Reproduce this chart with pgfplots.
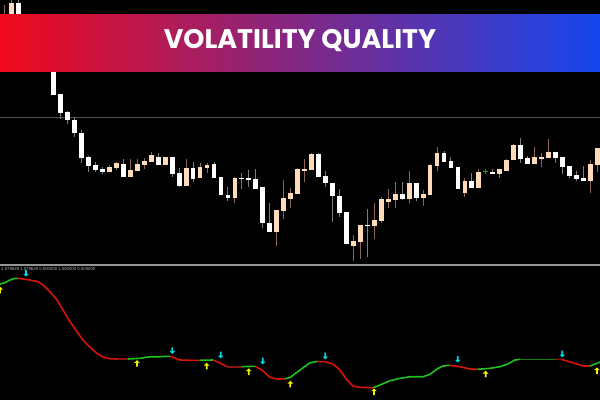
\documentclass[border=0pt]{standalone}
\usepackage{pgfplots}
\pgfplotsset{compat=1.18}
\usepackage{pgfplotstable}
\usepackage{fontspec}
\setmainfont{Liberation Sans}
\newfontfamily\poppins{Poppins}

\definecolor{peach}{RGB}{255,218,185}
\definecolor{wwick}{RGB}{125,125,125}
\definecolor{pwick}{RGB}{140,100,90}
\definecolor{vqgreen}{RGB}{30,195,30}
\definecolor{vqdkgreen}{RGB}{20,125,20}
\definecolor{vqred}{RGB}{215,20,10}
\definecolor{vqdkred}{RGB}{140,20,20}
\definecolor{arrcyan}{RGB}{0,215,230}
\definecolor{arryellow}{RGB}{240,240,0}
\definecolor{banl}{RGB}{240,10,28}
\definecolor{banr}{RGB}{20,70,238}

% arrow marks
\pgfdeclareplotmark{uparr}{%
  \pgfpathmoveto{\pgfpoint{0bp}{3.3bp}}
  \pgfpathlineto{\pgfpoint{2.8bp}{0.5bp}}
  \pgfpathlineto{\pgfpoint{0.9bp}{0.5bp}}
  \pgfpathlineto{\pgfpoint{0.9bp}{-3.3bp}}
  \pgfpathlineto{\pgfpoint{-0.9bp}{-3.3bp}}
  \pgfpathlineto{\pgfpoint{-0.9bp}{0.5bp}}
  \pgfpathlineto{\pgfpoint{-2.8bp}{0.5bp}}
  \pgfpathclose
  \pgfusepathqfill}
\pgfdeclareplotmark{dnarr}{%
  \pgfpathmoveto{\pgfpoint{0bp}{-3.3bp}}
  \pgfpathlineto{\pgfpoint{2.8bp}{-0.5bp}}
  \pgfpathlineto{\pgfpoint{0.9bp}{-0.5bp}}
  \pgfpathlineto{\pgfpoint{0.9bp}{3.3bp}}
  \pgfpathlineto{\pgfpoint{-0.9bp}{3.3bp}}
  \pgfpathlineto{\pgfpoint{-0.9bp}{-0.5bp}}
  \pgfpathlineto{\pgfpoint{-2.8bp}{-0.5bp}}
  \pgfpathclose
  \pgfusepathqfill}

% candles: k, body top, body bottom, wick top, wick bottom (screen rows)
\pgfplotstableread{
k  bt     bb     wt     wb
2  2.7    30     0      30
7  40     95.3   40     95.3
8  94.3   112.7  94.3   119.3
9  112.3  120    111    124.3
10 120    133.3  116.7  136.7
11 133.3  158.3  130.3  162.7
12 157.3  165.7  156    171.7
13 165    170    162.3  172
14 169    172    166.7  174.3
17 164    176.7  159.3  176.7
22 156.7  165    153.3  165
24 157.3  173.7  157    176.7
25 172.7  186.3  168.3  187
27 168.3  178.7  162.3  181.7
30 164.3  177.7  162    177.7
31 176.7  195    176.7  195
32 194.7  198.3  187.3  201.3
34 177.7  179    173.3  189
35 178.3  180.3  170    187.3
36 179.3  188.7  169.3  189.3
37 187.3  223    187.3  227.7
38 222.7  232.3  203    232.3
45 154.3  177    152.7  177
46 175.7  183.3  171    187.3
47 183    196.3  183    222
48 196    212.7  189.3  216.7
49 212    244.3  212    244.3
52 224.5  226    209    256.7
57 193.7  199.3  182    200
59 183    197.7  183    201
63 153.3  162.3  151    162.3
64 161.3  167.7  157    167.7
65 167.3  188.7  167.3  188.7
67 181    187.7  173.3  187.7
70 171.7  174    169.3  174
74 145    159    137.7  162.7
75 158.3  163.7  156    163.7
79 151.7  158.3  151.7  163.3
80 157.3  166.7  157.3  174
81 165.7  176    165.7  177.7
82 174.7  179    171    181.3
83 178    181    165.7  181
}\whitecandles

\pgfplotstableread{
k  bt     bb     wt     wb
0  16     40     5      40
1  2.7    30     0      30
15 167.3  172    165.3  172
16 163.3  168.3  162    169.7
18 170    176.7  159.3  176.7
19 164.3  170.7  159.3  170.7
20 161    165    158.3  169
21 155.3  162    152    162
23 157.3  165    157    165
26 168.3  186.3  159.3  186.3
28 167.3  178.3  163.3  178.3
29 164.7  167.7  163.3  172.7
33 177.7  198.3  177    202.7
39 210    232.3  210    245.7
40 198.3  211    180    219.3
41 193.3  199    188    208
42 169.3  193.7  168.3  193.7
43 169.3  170.7  159    182.3
44 154.3  170    153.3  170
50 241.3  245.7  234.5  261
51 225    242.3  225    258.5
53 220    226    202.7  239.3
54 199.3  221.3  196.7  223
55 199    201.7  189.3  208.3
56 193.7  199.7  181.7  208.3
58 183    199.3  171    202.7
60 194    197.7  190    206
61 165.3  194.7  164.3  194.7
62 153    166    147.3  171
66 181    193.3  178.3  196.7
68 172    187.7  169.3  187.7
71 169.3  174.3  169.3  177.7
72 159.7  170.7  158.7  170.7
73 145    160.3  144    160.3
76 157    163.7  147    163.7
77 157    158.3  153.3  166.7
78 151.7  158.3  139    158.3
84 164.3  181    160    193.3
85 147.7  165.3  147.7  171.7
}\peachcandles

\pgfplotsset{
  wick/.style={draw=none, no markers, forget plot,
    error bars/.cd, y dir=both, y explicit, error mark=none,
    error bar style={line width=1bp, solid, draw=#1}},
  body/.style={draw=none, no markers, forget plot,
    error bars/.cd, y dir=both, y explicit, error mark=none,
    error bar style={line width=4.8bp, solid, draw=#1}},
}

\begin{document}
\begin{tikzpicture}
\begin{axis}[
  width=600bp, height=400bp, scale only axis,
  xmin=0, xmax=600, ymin=0, ymax=400, y dir=reverse,
  axis line style={draw=none}, ticks=none,
  axis background/.style={fill=black},
  clip=true,
]
% panel lines
\addplot[draw={rgb,255:red,80;green,80;blue,90}, line width=1bp] coordinates {(0,117.3) (600,117.3)};
\addplot[draw={rgb,255:red,150;green,150;blue,150}, line width=1.7bp] coordinates {(0,265) (600,265)};

% candles
\addplot[wick=wwick] table[x expr=4.9+6.97*\thisrow{k}, y expr=(\thisrow{wt}+\thisrow{wb})/2, y error expr=(\thisrow{wb}-\thisrow{wt})/2] {\whitecandles};
\addplot[wick=pwick] table[x expr=4.9+6.97*\thisrow{k}, y expr=(\thisrow{wt}+\thisrow{wb})/2, y error expr=(\thisrow{wb}-\thisrow{wt})/2] {\peachcandles};
\addplot[body=white] table[x expr=4.9+6.97*\thisrow{k}, y expr=(\thisrow{bt}+\thisrow{bb})/2, y error expr={max((\thisrow{bb}-\thisrow{bt})/2,0.6)}] {\whitecandles};
\addplot[body=peach] table[x expr=4.9+6.97*\thisrow{k}, y expr=(\thisrow{bt}+\thisrow{bb})/2, y error expr={max((\thisrow{bb}-\thisrow{bt})/2,0.6)}] {\peachcandles};
\addplot[only marks, mark=+, mark size=2.6bp, draw={rgb,255:red,0;green,170;blue,0}, line width=0.9bp] coordinates {(485.8,171.5)};

% indicator line
\addplot[vqgreen, line width=1.6bp] coordinates {(0,284) (5,282.7) (10,280) (15,278.3) (18,278.3)};
\addplot[vqred, line width=1.6bp] coordinates {(18,278.3) (25,279.3) (30,280) (38,281.7) (43,285) (50,291.7) (57,300) (63,310) (70,321.7) (77,331.7) (83,340) (90,347.3) (97,353.3) (103,357) (110,358.7) (117,359)};
\addplot[vqdkred, line width=1.6bp] coordinates {(117,359) (128,359)};
\addplot[vqgreen, line width=1.6bp] coordinates {(128,359) (140,358.3) (150,356.7) (160,356.7) (170,356.3)};
\addplot[vqred, line width=1.6bp] coordinates {(170,356.3) (173,357.3) (180,360) (190,360.3) (200,360.3)};
\addplot[vqgreen, line width=1.6bp] coordinates {(200,360.3) (213,360)};
\addplot[vqred, line width=1.6bp] coordinates {(213,360) (220,363) (227,366.7)};
\addplot[vqdkred, line width=1.6bp] coordinates {(227,366.7) (242,366.7)};
\addplot[vqgreen, line width=1.6bp] coordinates {(242,366.7) (255,366.3)};
\addplot[vqred, line width=1.6bp] coordinates {(255,366.3) (262,370) (270,377.3) (277,379) (285,378.8)};
\addplot[vqgreen, line width=1.6bp] coordinates {(285,378.8) (290,377.5) (300,370) (310,362.7) (317,361.5)};
\addplot[vqred, line width=1.6bp] coordinates {(317,361.5) (325,361.7) (333,364) (340,370) (347,380) (353,386) (360,387.3) (373,387.7)};
\addplot[vqgreen, line width=1.6bp] coordinates {(373,387.7) (380,385) (390,380.7) (400,378.3) (410,376.7) (423,376.7) (430,374.3) (437,369) (443,366) (450,365.3)};
\addplot[vqred, line width=1.6bp] coordinates {(450,365.3) (460,366.7) (470,369) (478,369.3)};
\addplot[vqgreen, line width=1.6bp] coordinates {(478,369.3) (490,368.3) (500,366.7) (507,364.3) (515,360) (520,359.3)};
\addplot[vqdkgreen, line width=1.6bp] coordinates {(520,359.3) (555,359.3)};
\addplot[vqdkred, line width=1.6bp] coordinates {(555,359.3) (562,359.5)};
\addplot[vqred, line width=1.6bp] coordinates {(562,359.5) (567,361) (577,364) (583,366) (590,366)};
\addplot[vqgreen, line width=1.6bp] coordinates {(590,366) (600,362)};

% signal arrows
\addplot[only marks, mark=dnarr, color=arrcyan] coordinates {(26,273.3) (172.3,350.7) (220.7,355) (262.7,361) (325.3,356) (457.7,359.3) (562.3,354)};
\addplot[only marks, mark=uparr, color=arryellow] coordinates {(0,290) (137,363.3) (206.7,366) (248.7,371.7) (290.3,384) (374,391.7) (485.7,374) (597,370.7)};

% banner
\shade[left color=banl, right color=banr] (axis cs:0,14.3) rectangle (axis cs:600,71.7);
\node[text=white, font=\poppins\bfseries\fontsize{27}{30}\selectfont] at (axis cs:300,40.5) {VOLATILITY QUALITY};
\node[anchor=west, inner sep=0pt, text={rgb,255:red,190;green,190;blue,190}, font=\fontsize{4.3}{5}\selectfont] at (axis cs:1,269.5) {1.079629 1.079629 0.000000 1.000000 0.000000};
\end{axis}
\pgfresetboundingbox
\useasboundingbox (current axis.south west) rectangle (current axis.north east);
\end{tikzpicture}
\end{document}
